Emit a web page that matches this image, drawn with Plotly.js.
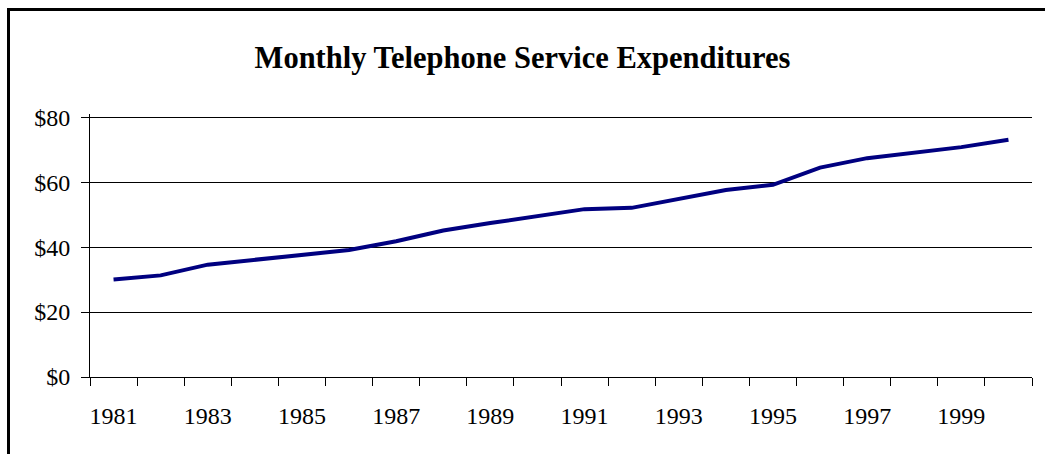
<!DOCTYPE html>
<html>
<head>
<meta charset="utf-8">
<script src="https://cdn.plot.ly/plotly-3.0.1.min.js"></script>
<style>html,body{margin:0;padding:0;background:#fff;}#chart{width:1045px;height:454px;}</style>
</head>
<body>
<div id="chart"></div>
<script>
const years = [1981,1982,1983,1984,1985,1986,1987,1988,1989,1990,1991,1992,1993,1994,1995,1996,1997,1998,1999,2000];
const expenditures = [30.0,31.3,34.6,36.1,37.6,39.1,41.8,45.1,47.4,49.5,51.7,52.1,54.8,57.6,59.2,64.5,67.4,69.0,70.8,73.1];
const xTickLabels = ['1981','1983','1985','1987','1989','1991','1993','1995','1997','1999'];
const xTickVals = xTickLabels.map(Number);
const yTickVals = [0,20,40,60,80];
const yTickLabels = ['$0','$20','$40','$60','$80'];

const font = {family: '"Liberation Serif", "Times New Roman", serif', color: '#000'};

const trace = {
  x: years,
  y: expenditures,
  type: 'scatter',
  mode: 'lines',
  line: {color: '#000080', width: 4},
  hoverinfo: 'skip'
};

const layout = {
  width: 1045,
  height: 454,
  margin: {l: 90, r: 13, t: 114, b: 77},
  paper_bgcolor: '#fff',
  plot_bgcolor: '#fff',
  showlegend: false,
  font: Object.assign({size: 24}, font),
  title: {
    text: '<b>Monthly Telephone Service Expenditures</b>',
    font: Object.assign({size: 30.5}, font),
    x: 0.5, xref: 'container', xanchor: 'center',
    y: 1 - 57/454, yref: 'container', yanchor: 'middle'
  },
  xaxis: {
    type: 'linear',
    range: [1980.5, 2000.5],
    tickmode: 'array',
    tickvals: xTickVals,
    ticktext: xTickLabels,
    ticks: '',
    ticklabelstandoff: 17,
    showgrid: false,
    zeroline: false,
    showline: true,
    linecolor: '#000',
    linewidth: 1,
    tickfont: Object.assign({size: 24}, font),
    minor: {tick0: 1980.5, dtick: 1, ticks: 'outside', ticklen: 8, tickcolor: '#000', tickwidth: 1, showgrid: false},
    fixedrange: true
  },
  yaxis: {
    range: [0, 81],
    tickmode: 'array',
    tickvals: yTickVals,
    ticktext: yTickLabels,
    ticks: 'outside',
    ticklen: 8,
    tickcolor: '#000',
    ticklabelstandoff: 6,
    showgrid: true,
    gridcolor: '#000',
    gridwidth: 1,
    zeroline: false,
    showline: true,
    linecolor: '#000',
    linewidth: 1,
    tickfont: Object.assign({size: 24}, font),
    fixedrange: true
  },
  shapes: [{
    type: 'rect', xref: 'paper', yref: 'paper',
    x0: (8.5 - 90) / 942, x1: 1.05,
    y0: -0.4, y1: (377 - 9.5) / 263,
    line: {color: '#000', width: 3},
    fillcolor: 'rgba(0,0,0,0)',
    layer: 'above'
  }]
};

Plotly.newPlot('chart', [trace], layout, {displayModeBar: false, staticPlot: true});
</script>
</body>
</html>
